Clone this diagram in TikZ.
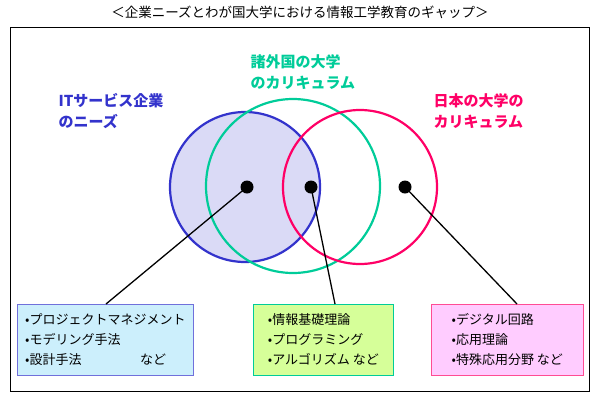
\documentclass[tikz,border=0pt]{standalone}
\usepackage{fontspec}
\setmainfont{Noto Sans CJK JP}
\definecolor{cb}{RGB}{51,51,204}
\definecolor{cg}{RGB}{0,204,153}
\definecolor{cr}{RGB}{255,0,102}
\begin{document}
\begin{tikzpicture}[x=1pt,y=-1pt,
  circ/.style={line width=2.2pt},
  dot/.style={circle,fill=black,inner sep=0pt,minimum size=13pt},
  lead/.style={line width=1.3pt},
  head/.style={font=\bfseries\fontsize{15}{21}\selectfont,align=left,anchor=west},
  box/.style={anchor=north west,align=left,inner sep=4pt,font=\fontsize{13}{20}\selectfont,line width=0.6pt,minimum height=71pt}]
\useasboundingbox (0,0) rectangle (600,400);
\node (title) at (300,12) {\fontsize{13.5}{15}\selectfont ＜企業ニーズとわが国大学における情報工学教育のギャップ＞};
\draw[line width=0.6pt] (10,27) rectangle (589,391);
\fill[cb!18] (245,187) circle (75);
\draw[cb,circ] (245,187) circle (75);
\draw[cg,circ] (293,186) circle (87);
\draw[cr,circ] (360,187) circle (77);
\node[head,text=cb] (h1) at (55,111) {ITサービス企業\\のニーズ};
\node[head,text=cg] (h2) at (247,72) {諸外国の大学\\のカリキュラム};
\node[head,text=cr] (h3) at (430,111) {日本の大学の\\カリキュラム};
\node[dot] (d1) at (247,187) {};
\node[dot] (d2) at (311,187) {};
\node[dot] (d3) at (405,187) {};
\node[box,draw=cb!70,fill=cyan!20,minimum width=176pt] (b1) at (17,304) {•プロジェクトマネジメント\\•モデリング手法\\•設計手法\hspace{4.5em}など};
\node[box,draw=cg,fill={rgb,255:red,214;green,255;blue,153},minimum width=140pt] (b2) at (253,304) {•情報基礎理論\\•プログラミング\\•アルゴリズム など};
\node[box,draw=cr!70,fill={rgb,255:red,255;green,204;blue,255},minimum width=152pt] (b3) at (431,304) {•デジタル回路\\•応用理論\\•特殊応用分野 など};
\coordinate (e1) at (106,304);
\coordinate (e2) at (335,304);
\coordinate (e3) at (517,304);
\draw[lead] (d1.center) -- (e1);
\draw[lead] (d2.center) -- (e2);
\draw[lead] (d3.center) -- (e3);
\end{tikzpicture}
\end{document}
